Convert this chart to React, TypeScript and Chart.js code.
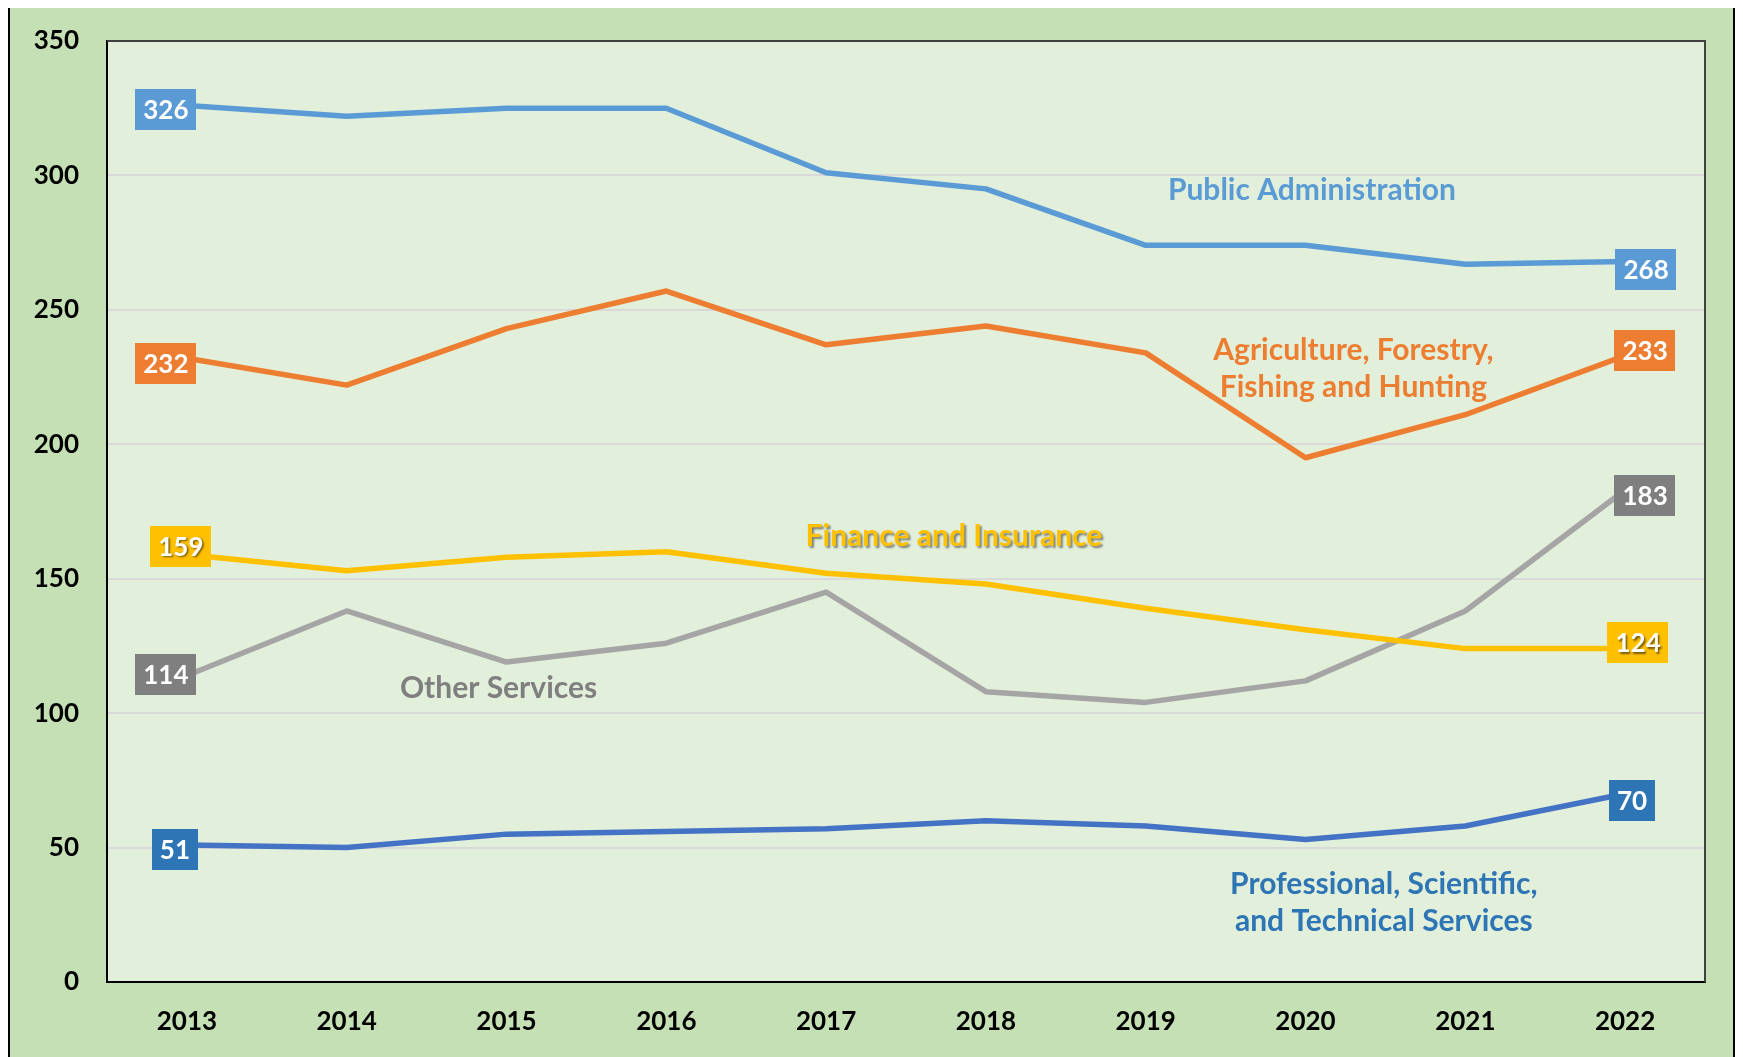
import React, { useEffect, useRef } from "react";
import { Chart, registerables } from "chart.js";

Chart.register(...registerables);

// ---- Data ----
const years = ["2013", "2014", "2015", "2016", "2017", "2018", "2019", "2020", "2021", "2022"];
const publicAdministration = [326, 322, 325, 325, 301, 295, 274, 274, 267, 268];
const agricultureForestry = [232, 222, 243, 257, 237, 244, 234, 195, 211, 233];
const financeInsurance = [159, 153, 158, 160, 152, 148, 139, 131, 124, 124];
const otherServices = [114, 138, 119, 126, 145, 108, 104, 112, 138, 183];
const professionalServices = [51, 50, 55, 56, 57, 60, 58, 53, 58, 70];
const yTickValues = [0, 50, 100, 150, 200, 250, 300, 350];

// ---- Styles ----
const FONT = "Lato, 'Open Sans', sans-serif";

type SeriesStyle = {
  name: string;
  lines: string[];
  data: number[];
  lineColor: string;
  boxColor: string;
  textColor: string;
  textShadow: boolean;
  // annotation anchor in (category index, value) units
  noteAt: [number, number];
  startOffset: [number, number];
  endOffset: [number, number];
};

const series: SeriesStyle[] = [
  {
    name: "Public Administration",
    lines: ["Public Administration"],
    data: publicAdministration,
    lineColor: "#5B9BD5",
    boxColor: "#5B9BD5",
    textColor: "#5B9BD5",
    textShadow: false,
    noteAt: [7.04, 294.6],
    startOffset: [-21, 4],
    endOffset: [21, 8],
  },
  {
    name: "Agriculture, Forestry, Fishing and Hunting",
    lines: ["Agriculture, Forestry,", "Fishing and Hunting"],
    data: agricultureForestry,
    lineColor: "#ED7D31",
    boxColor: "#ED7D31",
    textColor: "#ED7D31",
    textShadow: false,
    noteAt: [7.3, 228],
    startOffset: [-21, 5],
    endOffset: [20, -5],
  },
  {
    name: "Finance and Insurance",
    lines: ["Finance and Insurance"],
    data: financeInsurance,
    lineColor: "#FFC000",
    boxColor: "#FFC000",
    textColor: "#FFC000",
    textShadow: true,
    noteAt: [4.8, 165.9],
    startOffset: [-6, -8],
    endOffset: [13, -6],
  },
  {
    name: "Other Services",
    lines: ["Other Services"],
    data: otherServices,
    lineColor: "#A5A5A5",
    boxColor: "#7F7F7F",
    textColor: "#7F7F7F",
    textShadow: false,
    noteAt: [1.95, 109.4],
    startOffset: [-21, -1],
    endOffset: [20, 6],
  },
  {
    name: "Professional, Scientific, and Technical Services",
    lines: ["Professional, Scientific,", "and Technical Services"],
    data: professionalServices,
    lineColor: "#4472C4",
    boxColor: "#2E75B6",
    textColor: "#2E75B6",
    textShadow: false,
    noteAt: [7.49, 29.4],
    startOffset: [-12, 5],
    endOffset: [7, 7],
  },
];

const plotBackground = {
  id: "plotBackground",
  beforeDraw(chart: any) {
    const { ctx, chartArea } = chart;
    ctx.save();
    ctx.fillStyle = "#E2EFDA";
    ctx.fillRect(chartArea.left, chartArea.top, chartArea.right - chartArea.left, chartArea.bottom - chartArea.top);
    ctx.restore();
  },
  afterDraw(chart: any) {
    const { ctx, chartArea } = chart;
    ctx.save();
    ctx.strokeStyle = "#404040";
    ctx.lineWidth = 2;
    ctx.beginPath();
    ctx.moveTo(chartArea.left, chartArea.top);
    ctx.lineTo(chartArea.right, chartArea.top);
    ctx.lineTo(chartArea.right, chartArea.bottom);
    ctx.stroke();
    ctx.restore();
  },
};

const clearShadow = (ctx: CanvasRenderingContext2D) => {
  ctx.shadowColor = "transparent";
  ctx.shadowOffsetX = 0;
  ctx.shadowOffsetY = 0;
  ctx.shadowBlur = 0;
};

const labelsPlugin = {
  id: "seriesLabels",
  afterDatasetsDraw(chart: any) {
    const { ctx } = chart;
    const xs = chart.scales.x;
    const ys = chart.scales.y;
    ctx.save();
    series.forEach((s, i) => {
      const meta = chart.getDatasetMeta(i);
      const n = s.data.length;
      const ends: [number, [number, number]][] = [
        [0, s.startOffset],
        [n - 1, s.endOffset],
      ];
      ctx.font = `bold 26px ${FONT}`;
      ends.forEach(([idx, off]) => {
        const pt = meta.data[idx];
        const cx = pt.x + off[0];
        const cy = pt.y + off[1];
        const text = String(s.data[idx]);
        const w = ctx.measureText(text).width + 16;
        const h = 41;
        ctx.fillStyle = s.boxColor;
        ctx.fillRect(Math.round(cx - w / 2), Math.round(cy - h / 2), Math.round(w), h);
        ctx.textAlign = "center";
        ctx.textBaseline = "middle";
        if (s.textShadow) {
          ctx.shadowColor = "rgba(0,0,0,0.55)";
          ctx.shadowOffsetX = 1.5;
          ctx.shadowOffsetY = 1.5;
          ctx.shadowBlur = 2;
        }
        ctx.fillStyle = "#FFFFFF";
        ctx.fillText(text, cx, cy + 1);
        clearShadow(ctx);
      });

      // annotation
      const ax = xs.getPixelForValue(s.noteAt[0]);
      const ay = ys.getPixelForValue(s.noteAt[1]);
      ctx.font = `bold 30px ${FONT}`;
      ctx.textAlign = "center";
      ctx.textBaseline = "middle";
      const lh = 37;
      const startY = ay - ((s.lines.length - 1) * lh) / 2;
      s.lines.forEach((line, li) => {
        if (s.textShadow) {
          ctx.shadowColor = "rgba(60,60,60,0.6)";
          ctx.shadowOffsetX = 2;
          ctx.shadowOffsetY = 2;
          ctx.shadowBlur = 2;
        }
        ctx.fillStyle = s.textColor;
        ctx.fillText(line, ax, startY + li * lh);
        clearShadow(ctx);
      });
    });
    ctx.restore();
  },
};

export default function App() {
  const canvasRef = useRef<HTMLCanvasElement | null>(null);

  useEffect(() => {
    let chart: Chart | null = null;
    let cancelled = false;
    const build = () => {
      if (cancelled || !canvasRef.current) return;
      chart = new Chart(canvasRef.current, {
        type: "line",
        data: {
          labels: years,
          datasets: series.map((s) => ({
            label: s.name,
            data: s.data,
            borderColor: s.lineColor,
            backgroundColor: s.lineColor,
            borderWidth: 5.5,
            pointRadius: 0,
            tension: 0,
            fill: false,
            borderJoinStyle: "round" as const,
          })),
        },
        options: {
          animation: false,
          responsive: true,
          maintainAspectRatio: false,
          layout: { padding: { top: 33, right: 28, left: 0, bottom: 0 } },
          plugins: {
            legend: { display: false },
            tooltip: { enabled: false },
          },
          scales: {
            x: {
              type: "category",
              offset: true,
              grid: { display: false, drawTicks: false },
              border: { display: true, color: "#000000", width: 2 },
              ticks: {
                color: "#000000",
                font: { family: FONT, size: 26, weight: "bold" },
                padding: 24,
                maxRotation: 0,
              },
              afterFit: (scale: any) => {
                scale.height = 75;
                scale.paddingLeft = 0;
                scale.paddingRight = 0;
              },
            },
            y: {
              min: 0,
              max: 350,
              afterBuildTicks: (scale: any) => {
                scale.ticks = yTickValues.map((v) => ({ value: v }));
              },
              grid: { color: "#D9D9D9", lineWidth: 2, drawTicks: false },
              border: { display: true, color: "#000000", width: 2 },
              ticks: {
                color: "#000000",
                font: { family: FONT, size: 26, weight: "bold" },
                padding: 28,
              },
              afterFit: (scale: any) => {
                scale.width = 97;
                scale.paddingTop = 0;
                scale.paddingBottom = 0;
              },
            },
          },
        },
        plugins: [plotBackground, labelsPlugin],
      });
    };
    const fontsReady = (document as any).fonts
      ? Promise.all([
          (document as any).fonts.load(`bold 26px Lato`),
          (document as any).fonts.load(`bold 30px Lato`),
        ]).catch(() => null)
      : Promise.resolve(null);
    fontsReady.then(build, build);
    return () => {
      cancelled = true;
      if (chart) chart.destroy();
    };
  }, []);

  return (
    <div
      style={{
        position: "relative",
        marginTop: -2,
        height: 1051,
        boxSizing: "border-box",
        border: "2px solid #000",
        borderBottom: "none",
        background: "#C5E0B4",
        overflow: "hidden",
      }}
    >
      <div style={{ position: "absolute", left: 0, top: 0, right: 0, bottom: 0 }}>
        <canvas ref={canvasRef} />
      </div>
    </div>
  );
}
